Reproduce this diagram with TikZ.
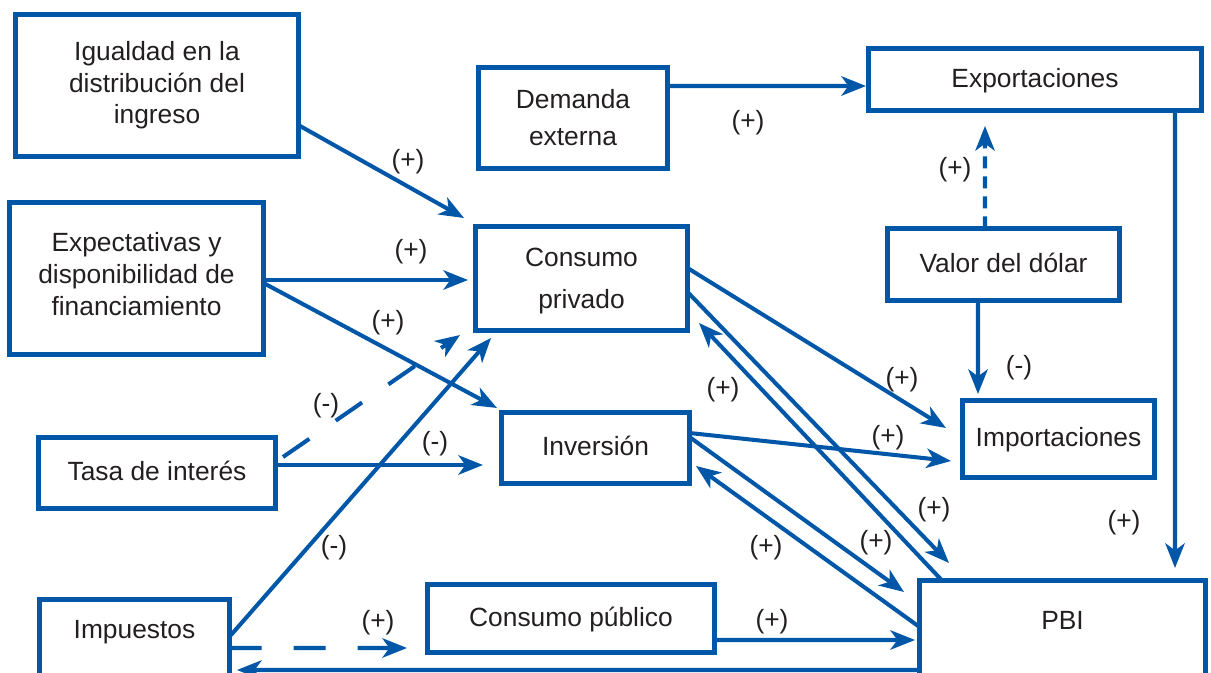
\documentclass[tikz,border=0pt]{standalone}
\usepackage{fontspec}
\setmainfont{Liberation Sans}
\usetikzlibrary{arrows.meta}
\definecolor{myBlue}{HTML}{0057A8}
\definecolor{myInk}{HTML}{231F20}

\begin{document}
\begin{tikzpicture}[
box/.style={draw=myBlue, line width=2.8pt, align=center, text=myInk, font=\fontsize{15}{18}\selectfont, inner sep=2pt, outer sep=0pt},
onebox/.style={box, text depth=0.21em},
openbox/.style={box, inner ysep=0pt, anchor=base},
arrow/.style={-{Stealth[length=14pt, width=11pt, inset=4pt]}, myBlue, line width=2.3pt},
dasharrow/.style={arrow, dash pattern=on 0.64cm off 0.64cm},
sign/.style={text=myInk, font=\fontsize{15}{18}\selectfont}
]
\useasboundingbox (0,0) rectangle (24.22,-13.46);

% boxes
\node[box, minimum width=5.65cm, minimum height=2.84cm] (igualdad) at (3.14,-1.71) {Igualdad en la\\distribución del\\ingreso};
\node[box, minimum width=3.78cm, minimum height=2.02cm] (demanda) at (11.46,-2.36) {Demanda\\[3pt]externa};
\node[onebox, minimum width=6.66cm, minimum height=1.24cm] (export) at (20.70,-1.59) {Exportaciones};
\node[box, minimum width=5.08cm, minimum height=3.04cm, text depth=0.18cm] (expect) at (2.73,-5.57) {Expectativas y\\disponibilidad de\\financiamiento};
\node[box, minimum width=4.24cm, minimum height=2.08cm, text depth=0pt] (cpriv) at (11.63,-5.57) {Consumo\\[6pt]privado};
\node[onebox, minimum width=4.64cm, minimum height=1.44cm] (valor) at (20.07,-5.29) {Valor del dólar};
\node[onebox, minimum width=4.74cm, minimum height=1.42cm] (tasa) at (3.14,-9.46) {Tasa de interés};
\node[onebox, minimum width=3.76cm, minimum height=1.42cm] (inv) at (11.91,-8.96) {Inversión};
\node[onebox, minimum width=3.84cm, minimum height=1.54cm] (import) at (21.17,-8.78) {Importaciones};
\node[onebox, minimum width=5.74cm, minimum height=1.36cm] (cpub) at (11.42,-12.37) {Consumo público};
\node[openbox, minimum width=3.8cm, text height=0.78cm, text depth=1.5cm] (impuestos) at (2.69,-12.77) {Impuestos};
\node[openbox, minimum width=5.72cm, text height=0.98cm, text depth=1.5cm] (pbi) at (21.25,-12.59) {PBI};

% left side
\draw[arrow] ([yshift=-0.79cm]igualdad.east) -- ([shift={(-0.23,0.17)}]cpriv.north west);
\draw[arrow] ([yshift=-0.03cm]expect.east) -- ([shift={(-0.15,-0.03)}]cpriv.west);
\draw[arrow] ([yshift=-0.09cm]expect.east) -- ([shift={(-0.09,0.09)}]inv.north west);
\draw[dasharrow] ([shift={(0.15,-0.39)}]tasa.north east) -- ([shift={(-0.31,-0.09)}]cpriv.south west);
\draw[arrow] ([yshift=0.16cm]tasa.east) -- ([shift={(-0.37,-0.34)}]inv.west);
\draw[arrow] ([shift={(0.03,-0.71)}]impuestos.north east) -- ([shift={(0.31,-0.15)}]cpriv.south west);
\draw[dasharrow] ([yshift=-0.97cm]impuestos.north east) -- ([shift={(-0.41,-0.59)}]cpub.west);
\draw[arrow] ([yshift=-1.79cm]pbi.north west) -- ([shift={(0.15,-1.41)}]impuestos.north east);

% right side
\draw[arrow] ([yshift=0.64cm]demanda.east) -- ([shift={(-0.05,-0.13)}]export.west);
\draw[arrow] ([xshift=2.8cm]export.south) -- ([shift={(2.25,0.25)}]pbi.north);
\draw[arrow, dash pattern=on 0.24cm off 0.16cm] ([xshift=-0.37cm]valor.north) -- ([shift={(-1.0,-0.31)}]export.south);
\draw[arrow] ([xshift=-0.51cm]valor.south) -- ([shift={(-1.61,0.13)}]import.north);
\draw[arrow] ([yshift=0.21cm]cpriv.east) -- ([shift={(-0.33,0.22)}]import.west);
\draw[arrow] ([yshift=-0.27cm]cpriv.east) -- ([shift={(0.59,0.35)}]pbi.north west);
\draw[arrow] ([xshift=0.45cm]pbi.north west) -- ([shift={(0.23,0.15)}]cpriv.south east);
\draw[arrow] ([yshift=0.3cm]inv.east) -- ([shift={(-0.23,-0.44)}]import.west);
\draw[arrow] ([yshift=0.22cm]inv.east) -- ([shift={(-0.31,-0.23)}]pbi.north west);
\draw[arrow] ([yshift=-0.93cm]pbi.north west) -- ([shift={(0.13,-0.36)}]inv.east);
\draw[arrow] ([yshift=-0.43cm]cpub.east) -- ([shift={(-0.09,-1.19)}]pbi.north west);

% signs
\node[sign] (s1) at (8.16,-3.24) {(+)};
\node[sign] (s2) at (8.22,-5.04) {(+)};
\node[sign] (s3) at (7.76,-6.46) {(+)};
\node[sign] (s4) at (6.52,-8.12) {(-)};
\node[sign] (s5) at (8.70,-8.88) {(-)};
\node[sign] (s6) at (6.68,-10.96) {(-)};
\node[sign] (s7) at (7.56,-12.46) {(+)};
\node[sign] (s9) at (14.96,-2.46) {(+)};
\node[sign] (s10) at (22.48,-10.46) {(+)};
\node[sign] (s11) at (19.10,-3.40) {(+)};
\node[sign] (s12) at (20.38,-7.36) {(-)};
\node[sign] (s13) at (18.04,-7.60) {(+)};
\node[sign] (s14) at (18.68,-10.20) {(+)};
\node[sign] (s15) at (14.46,-7.80) {(+)};
\node[sign] (s16) at (17.76,-8.76) {(+)};
\node[sign] (s17) at (17.52,-10.86) {(+)};
\node[sign] (s18) at (15.32,-10.96) {(+)};
\node[sign] (s19) at (15.44,-12.44) {(+)};
\end{tikzpicture}
\end{document}
